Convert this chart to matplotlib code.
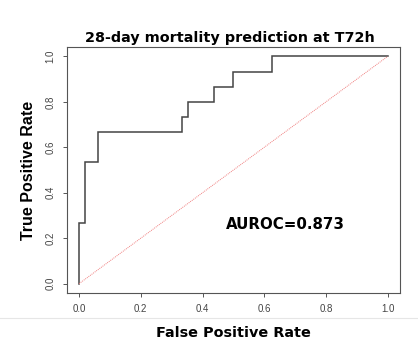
import matplotlib
matplotlib.use("Agg")
from matplotlib import pyplot as plt
from matplotlib.lines import Line2D

# ROC curve (15 positives, 48 negatives)
fpr = [0.0, 0.0, 1 / 48, 1 / 48, 3 / 48, 3 / 48, 16 / 48, 16 / 48, 17 / 48, 17 / 48,
       21 / 48, 21 / 48, 24 / 48, 24 / 48, 30 / 48, 30 / 48, 1.0]
tpr = [0.0, 4 / 15, 4 / 15, 8 / 15, 8 / 15, 10 / 15, 10 / 15, 11 / 15, 11 / 15, 12 / 15,
       12 / 15, 13 / 15, 13 / 15, 14 / 15, 14 / 15, 1.0, 1.0]
chance = [0.0, 1.0]
ticks = [0.0, 0.2, 0.4, 0.6, 0.8, 1.0]
tick_labels = ["0.0", "0.2", "0.4", "0.6", "0.8", "1.0"]
title = "28-day mortality prediction at T72h"
auroc_text = "AUROC=0.873"

fig = plt.figure(figsize=(4.18, 3.44), dpi=100)
ax = fig.add_axes([0.1596, 0.149, 0.7974, 0.7135])

ax.plot(fpr, tpr, color="#444444", lw=1.1, solid_joinstyle="miter")
ax.plot(chance, chance, color="#f08080", lw=0.7, ls=(0, (1, 1)))

ax.set_xlim(-0.04, 1.04)
ax.set_ylim(-0.04, 1.04)
ax.set_xticks(ticks)
ax.set_xticklabels(tick_labels, family="Liberation Sans")
ax.set_yticks(ticks)
ax.set_yticklabels(tick_labels, rotation=90, va="center", family="Liberation Sans")
ax.tick_params(direction="out", length=3, width=0.7, color="#555555",
               labelsize=7, labelcolor="#444444", pad=5)
for s in ax.spines.values():
    s.set_color("#555555")
    s.set_linewidth(0.8)

ax.text(0.475, 0.26, auroc_text, fontsize=10.8, fontweight="bold", va="center", ha="left")

fig.text(0.55, 1 - 38 / 344, title, fontsize=10.4, fontweight="bold", ha="center", va="center")
ax.set_xlabel("False Positive Rate", fontsize=10.4, fontweight="bold", labelpad=9)
ax.set_ylabel("True Positive Rate", fontsize=11.5, fontweight="bold", family="Liberation Sans",
              labelpad=7)

# faint separator line from the screenshot
fig.add_artist(Line2D([0, 1], [1 - 318 / 344, 1 - 318 / 344], color="#e6e6e6", lw=0.8))

plt.savefig("out.png", dpi=100)
plt.close()
